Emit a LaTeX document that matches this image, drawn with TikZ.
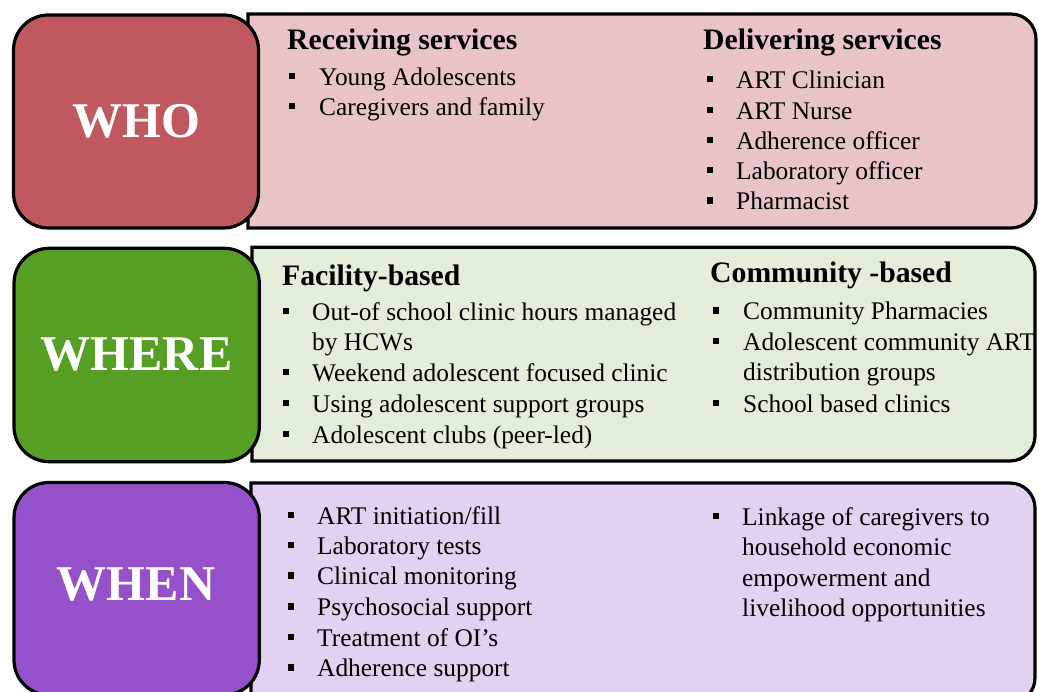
\documentclass[tikz,border=0pt]{standalone}
\usepackage{fontspec}
\setmainfont{Liberation Serif}
\definecolor{whoD}{RGB}{192,88,96}
\definecolor{whoL}{RGB}{232,196,199}
\definecolor{wherD}{RGB}{87,158,36}
\definecolor{wherL}{RGB}{226,238,218}
\definecolor{wheD}{RGB}{149,81,201}
\definecolor{wheL}{RGB}{226,209,241}
\tikzset{
  x=1pt,y=1pt,
  outl/.style={draw=black,line width=3.2pt},
  tagbox/.style={outl,rounded corners=35pt},
  tagtxt/.style={inner sep=0pt,text=white,font=\fontsize{50}{60}\selectfont\bfseries},
  head/.style={inner sep=0pt,anchor=base west,yshift=-2.5pt,font=\fontsize{29.7}{35}\selectfont\bfseries},
  txt/.style={inner sep=0pt,anchor=base west,yshift=-2.5pt,font=\fontsize{25.4}{30.5}\selectfont},
}
\newcommand\itm[5]{%
  \fill[black] (#2-0.3,#4+3.7) rectangle ++(6,6.3);
  \node[txt] (#1) at (#3,#4) {#5};}
\newcommand\cont[4]{\node[txt] (#1) at (#2,#3) {#4};}
\begin{document}
\begin{tikzpicture}
\useasboundingbox (0,0) rectangle (1039,691);
% ---------- row 1: WHO ----------
\filldraw[outl,fill=whoL] (248,463) -- (248,677) -- (1011,677)
  arc[start angle=90,end angle=0,radius=25pt] -- (1036,488)
  arc[start angle=0,end angle=-90,radius=25pt] -- cycle;
\filldraw[tagbox,fill=whoD] (13.5,463) rectangle (258.5,676);
\node[tagtxt] (who) at (136,569.5) {WHO};
\node[head] (recv) at (287,644.3) {Receiving services};
\itm{r1}{289}{319}{608}{Young Adolescents}
\itm{r2}{289}{319}{578.3}{Caregivers and family}
\node[head] (deliv) at (703,643.7) {Delivering services};
\itm{d1}{707}{736}{605}{ART Clinician}
\itm{d2}{707}{736}{574.3}{ART Nurse}
\itm{d3}{707}{736}{544.3}{Adherence officer}
\itm{d4}{707}{736}{514.3}{Laboratory officer}
\itm{d5}{707}{736}{483.7}{Pharmacist}
% ---------- row 2: WHERE ----------
\filldraw[outl,fill=wherL] (252,230) -- (252,443.7) -- (1010,443.7)
  arc[start angle=90,end angle=0,radius=25pt] -- (1035,255)
  arc[start angle=0,end angle=-90,radius=25pt] -- cycle;
\filldraw[tagbox,fill=wherD] (14,229.3) rectangle (259.3,442.7);
\node[tagtxt] (where) at (136.5,336) {WHERE};
\node[head] (fac) at (282,408.3) {Facility-based};
\itm{f1}{283}{312}{373}{Out-of school clinic hours managed}
\cont{f1b}{312}{343}{by HCWs}
\itm{f2}{283}{312}{312}{Weekend adolescent focused clinic}
\itm{f3}{283}{312}{281}{Using adolescent support groups}
\itm{f4}{283}{312}{250}{Adolescent clubs (peer-led)}
\node[head] (com) at (710,411) {Community -based};
\itm{c1}{713}{743}{373.5}{Community Pharmacies}
\itm{c2}{713}{743}{343}{Adolescent community ART}
\cont{c2b}{743}{312.5}{distribution groups}
\itm{c3}{713}{743}{281}{School based clinics}
% ---------- row 3: WHEN ----------
\filldraw[outl,fill=wheL] (251,-12) -- (251,208) -- (1010,208)
  arc[start angle=90,end angle=0,radius=25pt] -- (1035,13)
  arc[start angle=0,end angle=-90,radius=25pt] -- cycle;
\filldraw[tagbox,fill=wheD] (14,-4) rectangle (259.3,208.5);
\node[tagtxt] (when) at (136,106) {WHEN};
\itm{w1}{288}{317}{169.3}{ART initiation/fill}
\itm{w2}{288}{317}{139.3}{Laboratory tests}
\itm{w3}{288}{317}{108.7}{Clinical monitoring}
\itm{w4}{288}{317}{77.7}{Psychosocial support}
\itm{w5}{288}{317}{47}{Treatment of OI’s}
\itm{w6}{288}{317}{16.7}{Adherence support}
\itm{l1}{713}{742}{168.3}{Linkage of caregivers to}
\cont{l1b}{742}{137.7}{household economic}
\cont{l1c}{742}{107}{empowerment and}
\cont{l1d}{742}{76.7}{livelihood opportunities}
\end{tikzpicture}
\end{document}
